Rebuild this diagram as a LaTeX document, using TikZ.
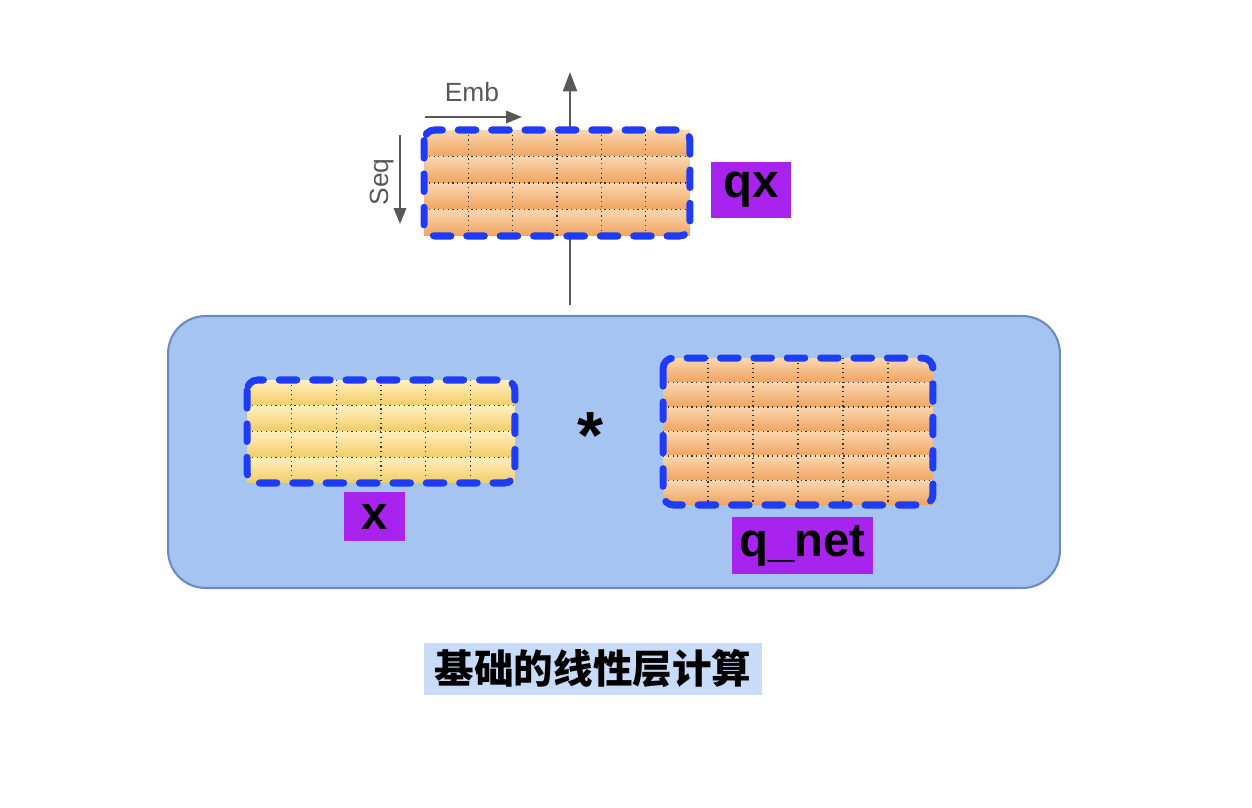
\documentclass[tikz,border=0pt]{standalone}
\usepackage{fontspec}
\setsansfont{Liberation Sans}
\newfontfamily\cjk{Noto Sans CJK SC}
\usetikzlibrary{arrows.meta,calc,positioning}

\definecolor{panelblue}{HTML}{A6C4F1}
\definecolor{paneledge}{HTML}{6A8CC0}
\definecolor{captionblue}{HTML}{C8DBF8}
\definecolor{tagpurple}{HTML}{A824EE}
\definecolor{dashblue}{HTML}{1E3CF5}
\definecolor{axisgray}{HTML}{585858}
\definecolor{orangelight}{HTML}{FAD6B0}
\definecolor{orangedark}{HTML}{EFA45F}
\definecolor{yellowlight}{HTML}{FFF0C0}
\definecolor{yellowdark}{HTML}{F2CB66}

% shaded rows, dotted cells, dashed frame over a box node
\newcommand\cellgrid[5]{%
  \foreach \r [evaluate=\r as \ta using (\r-1)/#2, evaluate=\r as \tb using \r/#2] in {1,...,#2}
    \shade[top color=#4, bottom color=#5]
      ($(#1.north west)!\ta!(#1.south west)$) rectangle ($(#1.north east)!\tb!(#1.south east)$);
  \foreach \r [evaluate=\r as \ta using \r/#2] in {1,...,\numexpr#2-1\relax}
    \draw[cellline] ($(#1.north west)!\ta!(#1.south west)$) -- ($(#1.north east)!\ta!(#1.south east)$);
  \foreach \c [evaluate=\c as \ta using \c/#3] in {1,...,\numexpr#3-1\relax}
    \draw[cellline] ($(#1.north west)!\ta!(#1.north east)$) -- ($(#1.south west)!\ta!(#1.south east)$);
  \draw[dashframe] (#1.north west) rectangle (#1.south east);
}

\begin{document}
\begin{tikzpicture}[
    x=0.02cm, y=-0.02cm,
    panel/.style={draw=paneledge, line width=1.2pt, fill=panelblue, rounded corners=0.75cm,
      minimum width=17.84cm, minimum height=5.44cm},
    cellbox/.style={inner sep=0pt, outer sep=0pt},
    tag/.style={fill=tagpurple, inner sep=0pt, text=black,
      font=\sffamily\bfseries\fontsize{27}{30}\selectfont},
    axislabel/.style={text=axisgray, font=\sffamily\fontsize{15}{18}\selectfont},
    axisarrow/.style={draw=axisgray, line width=1.1pt, -{Triangle[length=9pt,width=7pt]}},
    dashframe/.style={draw=dashblue, line width=4pt, dash pattern=on 10pt off 9pt,
      line cap=round, rounded corners=6pt},
    cellline/.style={black!80, dotted, line width=0.7pt}
]
    \useasboundingbox (0,0) rectangle (1252,808);

    \node[panel] (panel) at (614,452) {};

    % output arrow runs behind qx
    \coordinate (outfoot) at (570,305);
    \coordinate (outhead) at (570,72);
    \draw[axisarrow, -{Triangle[length=11pt,width=8pt]}] (outfoot) -- (outhead);

    \node[cellbox, minimum width=5.32cm, minimum height=2.12cm] (qxm) at (557,183) {};
    \node[cellbox, minimum width=5.36cm, minimum height=2.06cm] (xm) at (381,431.5) {};
    \node[cellbox, minimum width=5.40cm, minimum height=2.94cm] (qnm) at (798,431.5) {};
    \cellgrid{qxm}{4}{6}{orangelight}{orangedark}
    \cellgrid{xm}{4}{6}{yellowlight}{yellowdark}
    \cellgrid{qnm}{6}{6}{orangelight}{orangedark}

    \node[tag, minimum width=1.6cm, minimum height=1.12cm] (qxl) at (751,190) {qx};
    \node[tag, minimum width=1.22cm, minimum height=0.98cm] (xl) at (374.5,516.5) {x};
    \node[tag, minimum width=2.82cm, minimum height=1.14cm] (qnl) at (802.5,545.5) {q\_net};

    \node[font=\sffamily\bfseries\fontsize{38}{38}\selectfont] (star) at (590,436) {*};

    % axes of qx
    \coordinate (embtail) at (425,117);
    \coordinate (embhead) at (522,117);
    \draw[axisarrow] (embtail) -- (embhead);
    \node[axislabel] (emb) at (472,92) {Emb};
    \coordinate (seqtail) at (400,135);
    \coordinate (seqhead) at (400,224);
    \draw[axisarrow] (seqtail) -- (seqhead);
    \node[axislabel, rotate=90] (seq) at (382,182) {Seq};

    \node[fill=captionblue, minimum width=6.76cm, minimum height=1.04cm, inner sep=0pt,
      font=\cjk\bfseries\fontsize{22.5}{27}\selectfont] (caption) at (593,669) {基础的线性层计算};
\end{tikzpicture}
\end{document}
